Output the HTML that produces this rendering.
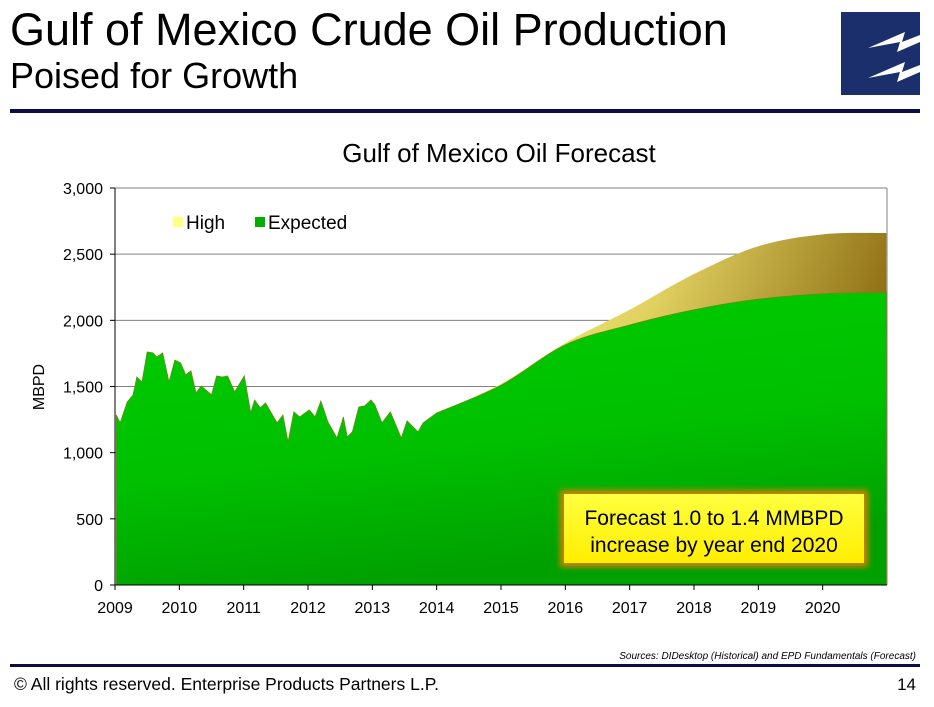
<!DOCTYPE html>
<html><head><meta charset="utf-8"><style>
body{margin:0;background:#fff;font-family:"Liberation Sans",Arial,sans-serif;}
#wrap{position:relative;width:934px;height:707px;overflow:hidden;}
</style></head><body>
<div id="wrap">
<svg width="934" height="707" xmlns="http://www.w3.org/2000/svg">
<defs>
<linearGradient id="gExp" x1="0" y1="0" x2="0.3" y2="1">
<stop offset="0" stop-color="#00cc00"/><stop offset="0.6" stop-color="#00c000"/><stop offset="1" stop-color="#00a000"/></linearGradient>
<linearGradient id="gHigh" x1="0" y1="0" x2="1" y2="0.3">
<stop offset="0" stop-color="#ffff80"/><stop offset="0.5" stop-color="#e0d060"/><stop offset="1" stop-color="#8a6a10"/></linearGradient>
<linearGradient id="gBox" x1="0" y1="0" x2="0" y2="1">
<stop offset="0" stop-color="#ffff40"/><stop offset="1" stop-color="#ffee00"/></linearGradient>
<filter id="glow" x="-10%" y="-20%" width="120%" height="140%"><feGaussianBlur stdDeviation="3"/></filter>
</defs>
<text x="10" y="45" font-size="45" fill="#000">Gulf of Mexico Crude Oil Production</text>
<text x="10" y="88" font-size="36" fill="#000">Poised for Growth</text>
<g>
<rect x="841" y="12" width="79" height="83" fill="#1a2f6b"/>
<path d="M868 48 L905 32 L902 42 L920 35 L920 42 L897 52 L900 42 Z" fill="#fff"/>
<path d="M868 78 L905 62 L902 72 L920 65 L920 72 L897 82 L900 72 Z" fill="#fff"/>
</g>
<rect x="10" y="109" width="910" height="4" fill="#0c0c4a"/>
<text x="499" y="162" font-size="26" text-anchor="middle">Gulf of Mexico Oil Forecast</text>
<g id="plot"></g>
<text transform="translate(44,387) rotate(-90)" font-size="16" text-anchor="middle">MBPD</text>
<g>
<rect x="173" y="217" width="10" height="10" fill="#ffff80"/>
<text x="186" y="229" font-size="19">High</text>
<rect x="255" y="217" width="10" height="10" fill="#00b000"/>
<text x="268" y="229" font-size="19">Expected</text>
</g>
<g>
<rect x="560" y="490" width="308" height="77" fill="#d08000" filter="url(#glow)"/>
<rect x="564" y="494" width="300" height="69" fill="url(#gBox)"/>
<text x="714" y="525" font-size="21" text-anchor="middle">Forecast 1.0 to 1.4 MMBPD</text>
<text x="714" y="552" font-size="21" text-anchor="middle">increase by year end 2020</text>
</g>
<text x="916" y="659" font-size="10" font-style="italic" text-anchor="end">Sources:  DIDesktop (Historical) and EPD Fundamentals (Forecast)</text>
<rect x="10" y="664" width="910" height="3" fill="#0c0c4a"/>
<text x="14" y="690" font-size="17.5">©  All rights reserved. Enterprise Products Partners L.P.</text>
<text x="916" y="690" font-size="17" text-anchor="end">14</text>
</svg>
</div>
<script>
const yTicks=[0,500,1000,1500,2000,2500,3000];
const xTicks=[2009,2010,2011,2012,2013,2014,2015,2016,2017,2018,2019,2020];
const histYears=[2009.02,2009.08,2009.19,2009.28,2009.34,2009.42,2009.50,2009.59,2009.65,2009.74,2009.84,2009.93,2010.02,2010.10,2010.18,2010.26,2010.34,2010.50,2010.58,2010.67,2010.75,2010.86,2011.01,2011.11,2011.17,2011.26,2011.34,2011.52,2011.61,2011.69,2011.78,2011.87,2012.02,2012.11,2012.20,2012.31,2012.45,2012.55,2012.61,2012.69,2012.79,2012.88,2012.98,2013.04,2013.15,2013.28,2013.45,2013.54,2013.71,2013.79,2014.0];
const histValues=[1285,1225,1383,1436,1572,1534,1761,1754,1723,1754,1534,1700,1678,1587,1618,1451,1504,1436,1580,1572,1580,1459,1580,1300,1398,1338,1376,1225,1285,1081,1308,1270,1323,1270,1391,1232,1111,1270,1119,1157,1345,1353,1398,1361,1225,1308,1111,1240,1157,1225,1300];
const fcYears=[2014,2015,2016,2017,2018,2019,2020,2020.99];
const expectedValues=[1300,1510,1815,1965,2080,2160,2200,2210];
const highValues=[1300,1520,1830,2080,2350,2560,2650,2660];
const X0=115,X1=887,Y0=585,Y1=188;
const xs=y=>X0+(y-2009)*(X1-X0)/12;
const ys=v=>Y0-(v/3000)*(Y0-Y1);
const NS='http://www.w3.org/2000/svg';
const plot=document.getElementById('plot');
function mk(t,a){const e=document.createElementNS(NS,t);for(const k in a)e.setAttribute(k,a[k]);plot.appendChild(e);return e;}
function smooth(yrs,vals){let d='';const p=yrs.map((y,i)=>[xs(y),ys(vals[i])]);
 for(let i=0;i<p.length-1;i++){const p0=p[Math.max(0,i-1)],p1=p[i],p2=p[i+1],p3=p[Math.min(p.length-1,i+2)];
  const c1=[p1[0]+(p2[0]-p0[0])/6,p1[1]+(p2[1]-p0[1])/6],c2=[p2[0]-(p3[0]-p1[0])/6,p2[1]-(p3[1]-p1[1])/6];
  d+=` C${c1[0]},${c1[1]} ${c2[0]},${c2[1]} ${p2[0]},${p2[1]}`;}
 return {start:p[0],d};}
yTicks.forEach(v=>{if(v>0){const g=mk('line',{x1:X0,x2:X1,y1:ys(v),y2:ys(v),stroke:'#808080','stroke-width':1});

}});
mk('line',{x1:X1,x2:X1,y1:Y1,y2:Y0,stroke:'#808080'});
const hs=smooth(fcYears,highValues),es=smooth(fcYears,expectedValues);
const high=mk('path',{d:`M${xs(fcYears[0])},${Y0} L${hs.start[0]},${hs.start[1]}${hs.d} L${xs(fcYears[fcYears.length-1])},${Y0} Z`,fill:'url(#gHigh)'});


let d=`M${xs(histYears[0])},${Y0}`;
histYears.forEach((y,i)=>{d+=` L${xs(y)},${ys(histValues[i])}`;});
d+=` L${es.start[0]},${es.start[1]}${es.d} L${xs(fcYears[fcYears.length-1])},${Y0} Z`;
const ex=mk('path',{d,fill:'url(#gExp)',stroke:'#6a8a10','stroke-width':0.8});


mk('line',{x1:X0,x2:X0,y1:Y1,y2:Y0,stroke:'#000'});
mk('line',{x1:X0,x2:X1,y1:Y0,y2:Y0,stroke:'#000'});
yTicks.forEach(v=>{mk('line',{x1:X0-5,x2:X0,y1:ys(v),y2:ys(v),stroke:'#000'});
const t=mk('text',{x:X0-12,y:ys(v)+6,'font-size':16,'text-anchor':'end'});t.textContent=v.toLocaleString('en-US');

});
xTicks.forEach(y=>{mk('line',{x1:xs(y),x2:xs(y),y1:Y0,y2:Y0+5,stroke:'#000'});
const t=mk('text',{x:xs(y),y:Y0+28,'font-size':16,'text-anchor':'middle'});t.textContent=y;

});
</script>
</body></html>
